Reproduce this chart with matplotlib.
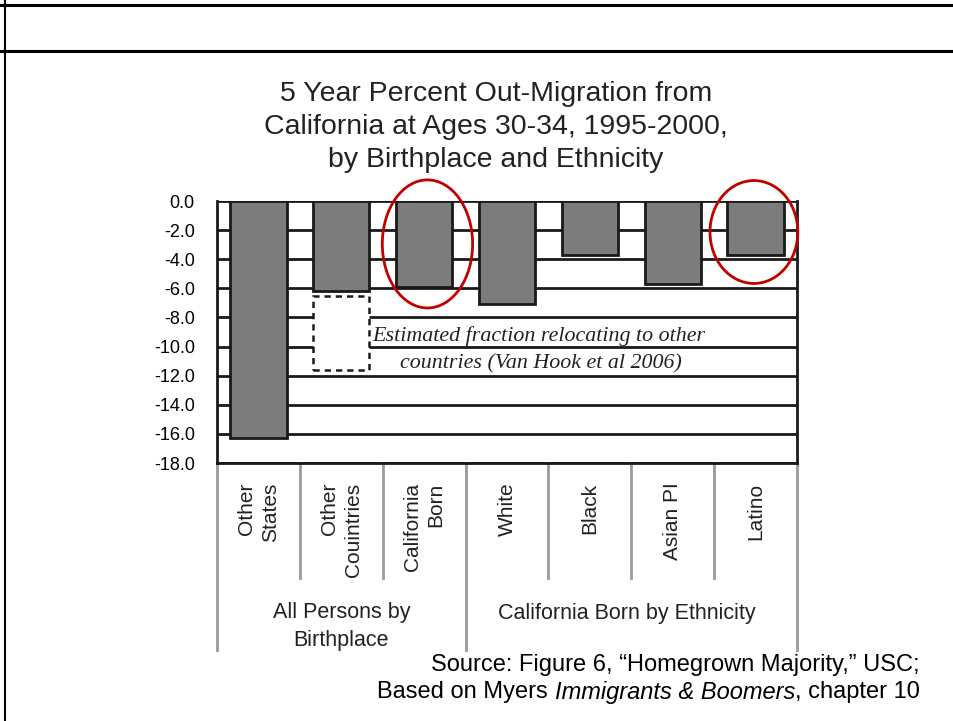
import numpy as np
import matplotlib
matplotlib.use("Agg")
import matplotlib.pyplot as plt
from matplotlib.patches import Ellipse, Rectangle
from matplotlib.lines import Line2D
import matplotlib.transforms as mtransforms

plt.rcParams['font.family'] = ['Liberation Sans', 'DejaVu Sans']

# data
categories = ["Other\nStates", "Other\nCouintries", "California\nBorn",
              "White", "Black", "Asian PI", "Latino"]
out_migration = [-16.3, -6.2, -5.9, -7.1, -3.7, -5.7, -3.7]
groups = ["All Persons by\nBirthplace", "California Born by Ethnicity"]
group_spans = [(0, 2), (3, 6)]
# dashed estimate under "Other Countries"
est_index = 1
est_top, est_bottom = -6.5, -11.6
yticks = np.arange(0, -18.1, -2.0)

fig = plt.figure(figsize=(9.54, 7.21), dpi=100)

# slide frame lines
fig.add_artist(Line2D([0, 1], [1 - 5/721, 1 - 5/721], color='black', lw=2.2))
fig.add_artist(Line2D([0, 1], [1 - 51/721, 1 - 51/721], color='black', lw=2.2))
fig.add_artist(Line2D([5/954, 5/954], [0, 1], color='black', lw=1.5))

ax = fig.add_axes([217/954, 1 - 463/721, 580/954, 262/721])
x = np.arange(len(categories))

for yv in yticks:
    ax.axhline(yv, color='#1a1a1a', lw=2.0, zorder=1)

ax.bar(x, out_migration, width=0.68, color='#7a7d7b', edgecolor='#1a1a1a',
       linewidth=2.0, zorder=3)

ax.add_patch(Rectangle((est_index - 0.34, est_bottom), 0.68, est_top - est_bottom,
                       fill=True, facecolor='white', edgecolor='#1a1a1a',
                       linestyle=(0, (2.5, 2)), lw=1.8, zorder=3))

ax.text(est_index + 0.37, -9.3, "Estimated fraction relocating to other",
        family='Liberation Serif', style='italic', fontsize=15.8,
        ha='left', va='center', zorder=4, color='#222222')
ax.text(3.41, -11.2, "countries (Van Hook et al 2006)",
        family='Liberation Serif', style='italic', fontsize=15.8,
        ha='center', va='center', zorder=4, color='#222222')

# red circles
ax.add_patch(Ellipse((2.04, -2.95), 1.09, 8.8, fill=False, edgecolor='#c00000',
                     lw=2.0, clip_on=False, zorder=5))
ax.add_patch(Ellipse((5.98, -2.13), 1.06, 7.07, fill=False, edgecolor='#c00000',
                     lw=2.0, clip_on=False, zorder=5))

ax.set_xlim(-0.5, len(categories) - 0.5)
ax.set_ylim(-18, 0)
ax.set_yticks(yticks)
ax.set_yticklabels([f"{v:.1f}" for v in yticks], fontsize=13)
ax.tick_params(axis='y', length=0, pad=16)
ax.set_xticks([])
for s in ['left', 'right', 'bottom']:
    ax.spines[s].set_linewidth(2.0)
    ax.spines[s].set_color('#1a1a1a')
ax.spines['top'].set_visible(False)

# category table below the axis
trans = mtransforms.blended_transform_factory(ax.transData, ax.transAxes)
for i, lab in enumerate(categories):
    ax.text(i, -0.075, lab, rotation=90, ha='center', va='top',
            multialignment='right', fontsize=15, linespacing=1.3,
            transform=trans, color='#222222')

bounds = [g[0] - 0.5 for g in group_spans] + [group_spans[-1][1] + 0.5]
for k in range(len(categories) + 1):
    xv = k - 0.5
    y_end = -0.715 if xv in bounds else -0.44
    ax.add_line(Line2D([xv, xv], [0, y_end], transform=trans, color='#9a9a9a',
                       lw=2.0, clip_on=False))

ax.text(np.mean(group_spans[0]), -0.625, groups[0], ha='center', va='center',
        fontsize=15.5, transform=trans, color='#222222', linespacing=1.45)
ax.text(np.mean(group_spans[1]) - 0.05, -0.573, groups[1], ha='center', va='center',
        fontsize=15.5, transform=trans, color='#222222')

fig.text(496/954, 1 - 127/721,
         "5 Year Percent Out-Migration from\nCalifornia at Ages 30-34, 1995-2000,\nby Birthplace and Ethnicity",
         ha='center', va='center', fontsize=20.5, color='#222222', linespacing=1.36)

fig.text(920/954, 1 - 665/721, "Source: Figure 6, \u201cHomegrown Majority,\u201d USC;",
         ha='right', va='center', fontsize=17)

# second source line with an italic book title, laid out piece by piece
pieces = [("Based on Myers ", 'normal'), ("Immigrants & Boomers", 'italic'),
          (", chapter 10", 'normal')]
renderer = fig.canvas.get_renderer()
texts = [fig.text(0, 1 - 692/721, s, style=st, fontsize=17, ha='left', va='center')
         for s, st in pieces]
widths = [t.get_window_extent(renderer).width for t in texts]
x_px = 920 - sum(widths)
for t, w in zip(texts, widths):
    t.set_x(x_px / 954)
    x_px += w

fig.savefig("out.png", dpi=100)
